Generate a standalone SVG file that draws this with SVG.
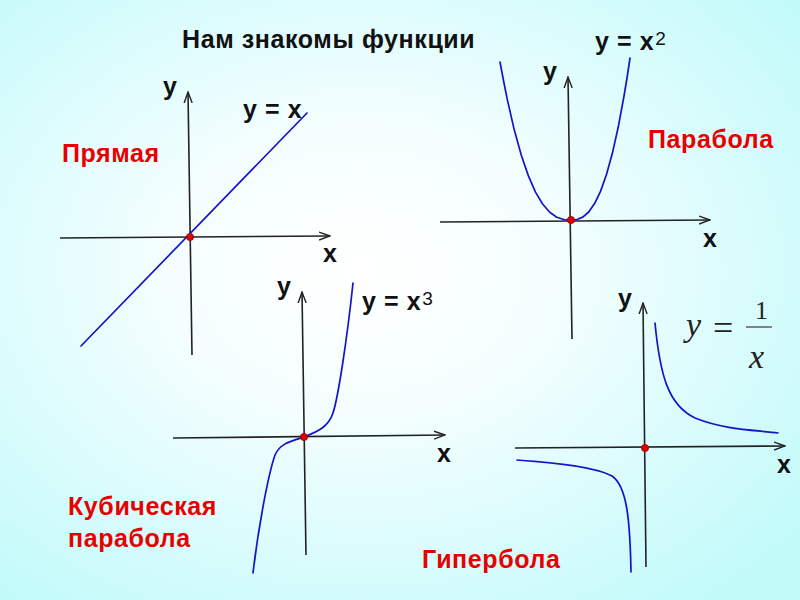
<svg xmlns="http://www.w3.org/2000/svg" width="800" height="600" viewBox="0 0 800 600">
<defs>
<radialGradient id="bg" cx="45%" cy="45%" r="70%">
<stop offset="0" stop-color="#ffffff"/>
<stop offset="0.35" stop-color="#f4feff"/>
<stop offset="1" stop-color="#c2fafa"/>
</radialGradient>
<marker id="arr" viewBox="0 0 12 10" refX="11" refY="5" markerWidth="12" markerHeight="10" markerUnits="userSpaceOnUse" orient="auto">
<path d="M0,1 L11,5 L0,9" fill="none" stroke="#222" stroke-width="1.4"/>
</marker>
<style>
.ax{stroke:#222;stroke-width:1.6;fill:none;marker-end:url(#arr)}
.cv{stroke:#1414c8;stroke-width:1.7;fill:none;stroke-linejoin:round;stroke-linecap:round}
.dot{fill:#dd0000;stroke:#990000;stroke-width:0.8}
.t{font-family:"Liberation Sans",Arial,sans-serif;font-weight:bold;font-size:25px;letter-spacing:0.6px;fill:#111}
.r{font-family:"Liberation Sans",Arial,sans-serif;font-weight:bold;font-size:25px;letter-spacing:0.6px;fill:#e80000}
.sup{font-family:"Liberation Sans",Arial,sans-serif;font-weight:normal;font-size:19px;letter-spacing:0;fill:#111}
.m{font-family:"Liberation Serif","Times New Roman",serif;fill:#222}
</style>
</defs>
<rect x="0" y="0" width="800" height="600" fill="url(#bg)"/>
<text class="t" x="182" y="48">Нам знакомы функции</text>

<g id="graph-line">
<line class="ax" x1="60" y1="238" x2="330" y2="236"/>
<line class="ax" x1="192" y1="355" x2="188" y2="92"/>
<line class="cv" x1="81" y1="346" x2="307" y2="113"/>
<circle class="dot" cx="190" cy="237" r="3.6"/>
<text class="t" x="163" y="95">y</text>
<text class="t" x="243" y="118">y = x</text>
<text class="t" x="323" y="262">x</text>
<text class="r" x="62" y="162">Прямая</text>
</g>

<g id="graph-parabola">
<line class="ax" x1="440" y1="222" x2="710" y2="220"/>
<line class="ax" x1="572" y1="339" x2="568" y2="77"/>
<polyline class="cv" points="500,62 503.6,81 507.1,98.6 514.2,129.6 521.3,155.2 528.4,175.9 535.5,192.1 542.6,204 549.7,212.2 556.8,217.2 563.9,219.5 571,220 576.9,219.5 582.8,217.1 588.7,212 594.6,203.6 600.5,191.4 606.4,174.8 612.3,153.6 618.2,127.3 624.1,95.5 627.1,77.5 630,58"/>
<circle class="dot" cx="571" cy="220" r="3.6"/>
<text class="t" x="543" y="80">y</text>
<text class="t" x="595" y="50">y = x<tspan class="sup" dx="1" dy="-5">2</tspan></text>
<text class="t" x="703" y="247">x</text>
<text class="r" x="648" y="148">Парабола</text>
</g>

<g id="graph-cubic">
<line class="ax" x1="173" y1="438" x2="445" y2="435"/>
<line class="ax" x1="306" y1="555" x2="302" y2="292"/>
<path class="cv" d="M253,573 C258,530 268,475 275,455 C280,443 292,441 304,437 C316,432 328,428 333,413 C338,398 347,340 353,283"/>
<circle class="dot" cx="304" cy="437" r="3.6"/>
<text class="t" x="277" y="295">y</text>
<text class="t" x="362" y="310">y = x<tspan class="sup" dx="1" dy="-5">3</tspan></text>
<text class="t" x="437" y="462">x</text>
<text class="r" x="68" y="515">Кубическая</text>
<text class="r" x="68" y="547">парабола</text>
</g>

<g id="graph-hyperbola">
<line class="ax" x1="515" y1="448" x2="785" y2="446"/>
<line class="ax" x1="646" y1="567" x2="643" y2="303"/>
<path class="cv" d="M655,323 C660,375 668,405 695,418 C725,430 755,430 778,433"/>
<path class="cv" d="M517,460 C560,463 595,467 612,476 C627,486 630,520 631,572"/>
<circle class="dot" cx="645" cy="448" r="3.6"/>
<text class="t" x="618" y="307">y</text>
<text class="t" x="777" y="473">x</text>
<text class="r" x="422" y="568">Гипербола</text>
<text class="m" x="686" y="336" font-size="34" font-style="italic">y</text>
<text class="m" x="713" y="340" font-size="36">=</text>
<text class="m" x="755" y="319" font-size="26">1</text>
<line x1="746" y1="327" x2="772" y2="327" stroke="#444" stroke-width="1.3"/>
<text class="m" x="749" y="368" font-size="34" font-style="italic">x</text>
</g>
</svg>
